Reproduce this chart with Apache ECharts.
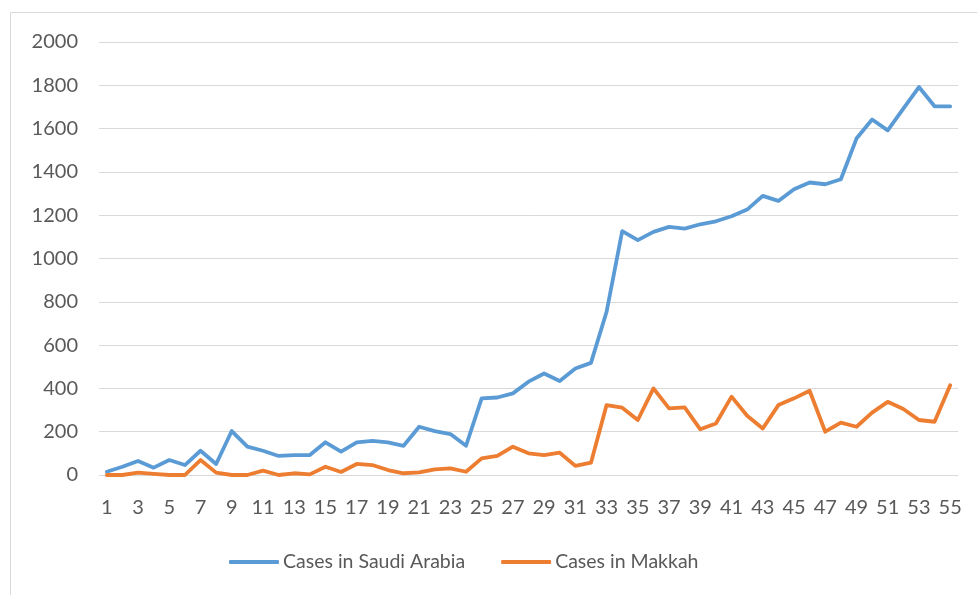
<!DOCTYPE html>
<html>
<head>
<meta charset="utf-8">
<script src="https://cdn.jsdelivr.net/npm/echarts@6/dist/echarts.min.js"></script>
<style>
  html, body { margin: 0; padding: 0; background: #fff; }
  #chart { width: 977px; height: 595px; }
</style>
</head>
<body>
<div id="chart"></div>
<script>
// 数据
const days = Array.from({ length: 55 }, (_, i) => String(i + 1))
const saudiCases = [
  15, 38, 65, 34, 69, 46, 112, 51, 203, 131,
  112, 88, 92, 92, 151, 108, 151, 158, 151, 135,
  223, 203, 189, 135, 354, 358, 377, 431, 469, 434,
  492, 518, 754, 1126, 1085, 1123, 1146, 1138, 1158, 1172,
  1195, 1226, 1289, 1266, 1320, 1351, 1343, 1366, 1554, 1642,
  1592, 1692, 1792, 1703, 1703
]
const makkahCases = [
  0, 0, 11, 5, 0, 0, 69, 11, 0, 0,
  20, 0, 8, 3, 38, 14, 51, 46, 23, 8,
  12, 26, 31, 15, 77, 88, 131, 100, 92, 103,
  42, 57, 323, 311, 254, 400, 308, 312, 211, 238,
  362, 274, 215, 323, 354, 389, 200, 242, 223, 288,
  338, 305, 254, 246, 415
]

const font = 'Lato, "Open Sans", sans-serif'
const textColor = '#595959'

const chart = echarts.init(document.getElementById('chart'))
const option = {
  backgroundColor: '#fff',
  animation: false,
  graphic: [
    {
      type: 'rect',
      shape: { x: 10.5, y: 12.5, width: 1000, height: 700 },
      style: { fill: 'none', stroke: '#d9d9d9', lineWidth: 1 },
      silent: true,
    },
  ],
  grid: { left: 99, right: 19, top: 42, bottom: 120 },
  legend: {
    top: 547,
    left: 224,
    itemWidth: 50,
    itemHeight: 4,
    itemGap: 36,
    icon: 'roundRect',
    textStyle: { fontFamily: font, fontSize: 19.5, color: textColor, padding: [0, 0, 0, -1] },
    data: ['Cases in Saudi Arabia', 'Cases in Makkah'],
  },
  xAxis: {
    type: 'category',
    data: days,
    boundaryGap: true,
    axisLine: { show: false },
    axisTick: { show: false },
    axisLabel: {
      interval: 1,
      margin: 23,
      fontFamily: font,
      fontSize: 20,
      color: textColor,
    },
  },
  yAxis: {
    type: 'value',
    min: 0,
    max: 2000,
    interval: 200,
    axisLine: { show: false },
    axisTick: { show: false },
    axisLabel: {
      margin: 21,
      fontFamily: font,
      fontSize: 20,
      color: textColor,
      formatter: (v) => String(v),
    },
    splitLine: { lineStyle: { color: '#d9d9d9', width: 1 } },
  },
  series: [
    {
      name: 'Cases in Saudi Arabia',
      type: 'line',
      data: saudiCases,
      symbol: 'none',
      color: '#5B9BD5',
      lineStyle: { width: 3.8, cap: 'round', join: 'round' },
    },
    {
      name: 'Cases in Makkah',
      type: 'line',
      data: makkahCases,
      symbol: 'none',
      color: '#ED7D31',
      lineStyle: { width: 3.8, cap: 'round', join: 'round' },
    },
  ],
}
chart.setOption(option)
</script>
</body>
</html>
